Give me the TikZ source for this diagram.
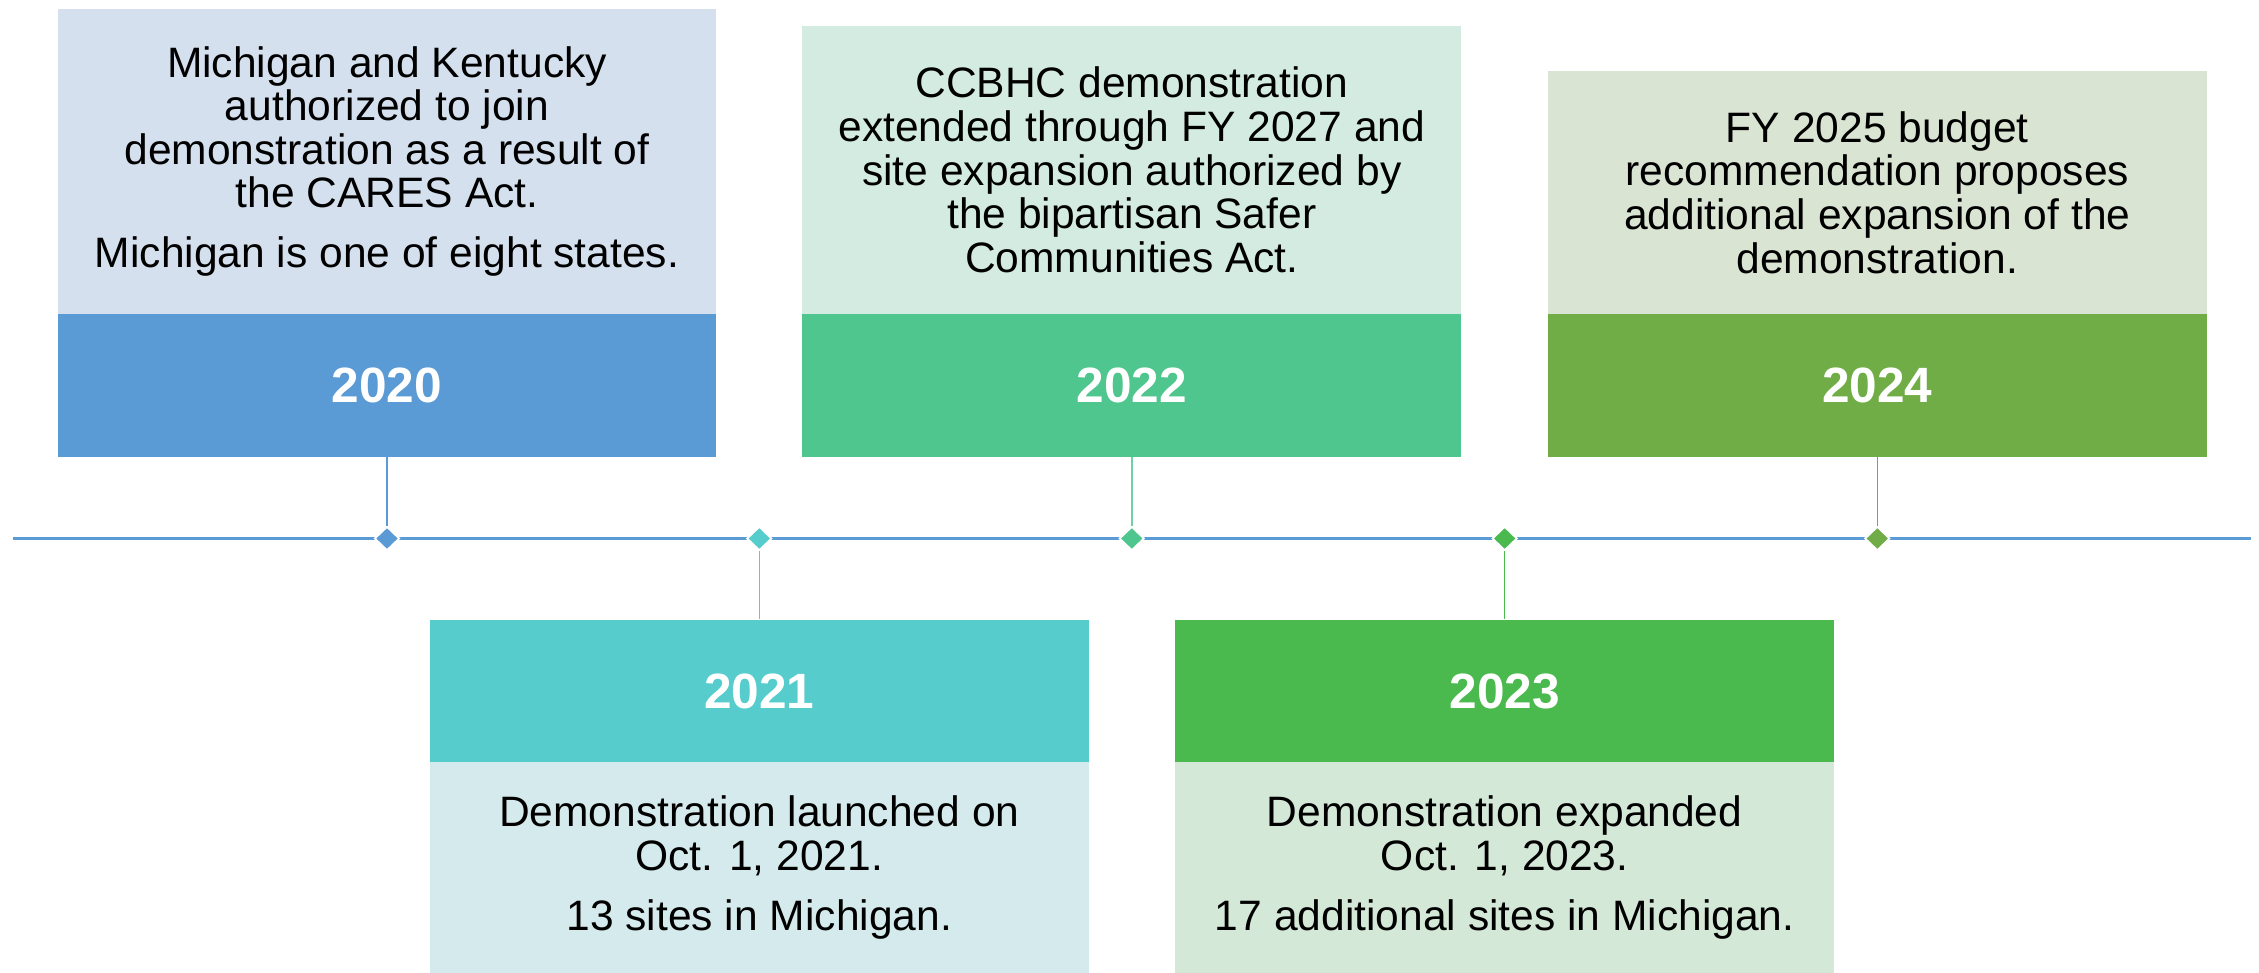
\documentclass[tikz,border=0pt]{standalone}
\usepackage{fontspec}
\setmainfont{Liberation Sans}
\usetikzlibrary{shapes.geometric}
\definecolor{dA}{HTML}{5B9BD5}
\definecolor{lA}{HTML}{D5E0EE}
\definecolor{dB}{HTML}{56CCCD}
\definecolor{lB}{HTML}{D5EAEC}
\definecolor{dC}{HTML}{4EC68E}
\definecolor{lC}{HTML}{D4EBE2}
\definecolor{dD}{HTML}{4ABA4F}
\definecolor{lD}{HTML}{D4E8D8}
\definecolor{dE}{HTML}{70AD47}
\definecolor{lE}{HTML}{D9E4D3}
\definecolor{tl}{HTML}{5B9BD5}
\newcommand{\bodyfnt}{\fontsize{12.1}{12.4}\selectfont}
\newcommand{\yearfnt}{\fontsize{14.1}{16}\selectfont\bfseries}
\begin{document}
\begin{tikzpicture}[x=0.01cm,y=-0.01cm,
  lightbox/.style={rectangle, minimum width=6.585cm, inner sep=0pt, font=\bodyfnt, align=center, text=black},
  darkbox/.style={rectangle, minimum width=6.585cm, minimum height=1.425cm, inner sep=0pt, font=\yearfnt, text=white},
  dia/.style={diamond, aspect=1, minimum width=0.25cm, minimum height=0.24cm, inner sep=0pt, draw=white, line width=0.5pt},
  conn/.style={line width=0.4pt},
  timeline/.style={line width=0.03cm, draw=tl}]
\useasboundingbox (0,0) rectangle (2259,973);
% timeline
\coordinate (tlL) at (13,538.5);
\coordinate (tlR) at (2251,538.5);
\draw[timeline] (tlL) -- (tlR);
% 2020
\node[lightbox, fill=lA, minimum height=3.054cm] (l2020) at (387,161.3) {Michigan and Kentucky\\authorized to join\\demonstration as a result of\\the CARES Act.\\[4.6pt]Michigan is one of eight states.};
\node[darkbox, fill=dA] (d2020) at (387,385.5) {2020};
% 2022
\node[lightbox, fill=lC, minimum height=2.88cm] (l2022) at (1131.8,170) {CCBHC demonstration\\extended through FY 2027 and\\site expansion authorized by\\the bipartisan Safer\\Communities Act.};
\node[darkbox, fill=dC] (d2022) at (1131.8,385.5) {2022};
% 2024
\node[lightbox, fill=lE, minimum height=2.43cm] (l2024) at (1877.3,192.5) {FY 2025 budget\\recommendation proposes\\additional expansion of the\\demonstration.};
\node[darkbox, fill=dE] (d2024) at (1877.3,385.5) {2024};
% 2021
\node[darkbox, fill=dB] (d2021) at (759.3,691) {2021};
\node[lightbox, fill=lB, minimum height=2.11cm] (l2021) at (759.3,867.5) {Demonstration launched on\\Oct. 1, 2021.\\[4.6pt]13 sites in Michigan.};
% 2023
\node[darkbox, fill=dD] (d2023) at (1504.7,691) {2023};
\node[lightbox, fill=lD, minimum height=2.11cm] (l2023) at (1504.7,867.5) {Demonstration expanded\\Oct. 1, 2023.\\[4.6pt]17 additional sites in Michigan.};
% diamonds
\node[dia, fill=dA] (m2020) at (387,538.5) {};
\node[dia, fill=dB] (m2021) at (759.3,538.5) {};
\node[dia, fill=dC] (m2022) at (1131.8,538.5) {};
\node[dia, fill=dD] (m2023) at (1504.7,538.5) {};
\node[dia, fill=dE] (m2024) at (1877.3,538.5) {};
% connectors
\draw[conn, dA] (d2020.south) -- (m2020.north);
\draw[conn, dB] (m2021.south) -- (d2021.north);
\draw[conn, dC!80!white] (d2022.south) -- (m2022.north);
\draw[conn, dD] (m2023.south) -- (d2023.north);
\draw[conn, dE] (d2024.south) -- (m2024.north);
\end{tikzpicture}
\end{document}
